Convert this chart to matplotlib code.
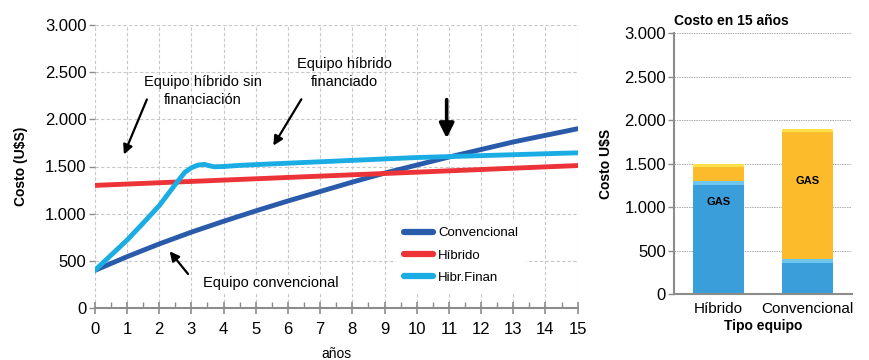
import matplotlib.pyplot as plt
import matplotlib.ticker as mticker

plt.rcParams['font.family'] = ['Liberation Sans', 'DejaVu Sans']

# costo acumulado por año (U$S)
anios = list(range(16))
convencional = [400, 545, 680, 805, 920, 1030, 1135, 1235, 1335, 1430,
                1515, 1600, 1680, 1760, 1830, 1900]
hibrido = [1300, 1314, 1328, 1342, 1356, 1370, 1384, 1398, 1412, 1426,
           1440, 1454, 1468, 1482, 1496, 1510]
anios_fin = [0, 1, 1.5, 2, 2.5, 2.8, 3.0, 3.2, 3.4, 3.7, 4, 4.5, 5, 6, 7, 8,
             9, 10, 11, 12, 13, 14, 15]
hibrido_fin = [400, 720, 900, 1085, 1310, 1440, 1487, 1515, 1522, 1497, 1500,
               1512, 1520, 1535, 1550, 1565, 1580, 1595, 1605, 1615, 1625,
               1635, 1645]

# costo en 15 años por tipo de equipo
tipos = ['Híbrido', 'Convencional']
equipo = [1300, 400]
gas = [200, 1500]
gas_label_y = [1060, 1300]

C_CONV = '#2A5BAA'
C_HIB = '#EB3338'
C_FIN = '#1AADE4'
C_BLUE = '#3A9EDA'
C_YEL = '#FBBB2B'
GRAY = '#8C8C8C'

fmt = mticker.FuncFormatter(lambda v, p: f'{int(v):,}'.replace(',', '.'))

fig = plt.figure(figsize=(8.7, 3.6), dpi=100)

# --- grafico de lineas ---
ax = fig.add_axes([0.109, 0.144, 0.555, 0.787])
ax.plot(anios, convencional, color=C_CONV, lw=3.5, solid_capstyle='round', label='Convencional', zorder=3)
ax.plot(anios, hibrido, color=C_HIB, lw=3.5, solid_capstyle='round', label='Híbrido', zorder=3)
ax.plot(anios_fin, hibrido_fin, color=C_FIN, lw=3.5, solid_capstyle='round',
        solid_joinstyle='round', label='Hibr.Finan', zorder=3)

ax.set_xlim(0, 15)
ax.set_ylim(0, 3000)
ax.set_xticks(range(16))
ax.set_xticks([i + 0.5 for i in range(15)], minor=True)
ax.set_yticks(range(0, 3001, 500))
ax.yaxis.set_major_formatter(fmt)
ax.grid(True, color='#C8C8C8', ls=(0, (3, 2)), lw=0.8)
ax.set_axisbelow(True)
for s in ['top', 'right', 'left']:
    ax.spines[s].set_visible(False)
ax.spines['bottom'].set_color(GRAY)
ax.spines['bottom'].set_linewidth(1.5)
ax.tick_params(axis='x', which='major', direction='inout', length=8, width=1.2, color=GRAY,
               labelsize=12, pad=6)
ax.tick_params(axis='x', which='minor', direction='in', length=4, width=1, color=GRAY)
ax.tick_params(axis='y', length=4, width=1, color=GRAY, labelsize=12, pad=2)
ax.set_xlabel('años', fontsize=10, labelpad=7)
ax.set_ylabel('Costo (U$S)', fontsize=10, fontweight='bold', labelpad=12)

leg = ax.legend(loc='lower left', bbox_to_anchor=(0.61, 0.035), frameon=True, fontsize=9.5,
                handlelength=2.2, labelspacing=0.75, handletextpad=0.4, borderpad=0.6)
leg.get_frame().set_edgecolor('none')
leg.get_frame().set_facecolor('white')
leg.get_frame().set_alpha(1)
for h in leg.get_lines():
    h.set_linewidth(4.5)

arr = dict(arrowstyle='-|>', color='black', lw=1.6, mutation_scale=14)
ax.text(3.35, 2300, 'Equipo híbrido sin\nfinanciación', ha='center', va='center', fontsize=10.5,
        linespacing=1.3)
ax.annotate('', xy=(0.87, 1600), xytext=(1.65, 2237), arrowprops=arr)
ax.text(7.76, 2491, 'Equipo híbrido\nfinanciado', ha='center', va='center', fontsize=10.5,
        linespacing=1.3)
ax.annotate('', xy=(5.5, 1696), xytext=(6.46, 2237), arrowprops=arr)
ax.annotate('', xy=(10.93, 1770), xytext=(10.93, 2237),
            arrowprops=dict(arrowstyle='-|>', color='black', lw=2.6, mutation_scale=22))
ax.text(5.47, 265, 'Equipo convencional', ha='center', va='center', fontsize=10.5,
        bbox=dict(facecolor='white', edgecolor='none', pad=1))
ax.annotate('', xy=(2.27, 625), xytext=(2.95, 339), arrowprops=arr)

# --- grafico de barras ---
bx = fig.add_axes([0.775, 0.183, 0.204, 0.725])
pos = range(len(tipos))
tops = [e + g for e, g in zip(equipo, gas)]
bx.bar(pos, equipo, width=0.57, color=C_BLUE, zorder=2)
bx.bar(pos, gas, width=0.57, bottom=equipo, color=C_YEL, zorder=2)
# brillo en el borde superior de cada tramo
bx.bar(pos, [40] * 2, width=0.57, bottom=[e - 40 for e in equipo], color='#6CC6EE', zorder=3)
bx.bar(pos, [40] * 2, width=0.57, bottom=[t - 40 for t in tops], color='#FDE04A', zorder=3)
for i in pos:
    bx.text(i, gas_label_y[i], 'GAS', ha='center', va='center', fontsize=8,
            fontweight='bold', color='black', zorder=4)

bx.set_xlim(-0.5, 1.5)
bx.set_ylim(0, 3000)
bx.set_yticks(range(0, 3001, 500))
bx.yaxis.set_major_formatter(fmt)
bx.set_xticks(list(pos))
bx.set_xticklabels(tipos)
bx.grid(True, axis='y', color='#AAAAAA', ls=(0, (1.5, 1)), lw=0.7)
bx.set_axisbelow(True)
bx.spines['top'].set_visible(False)
bx.spines['right'].set_visible(False)
for s in ['left', 'bottom']:
    bx.spines[s].set_color(GRAY)
    bx.spines[s].set_linewidth(1.5)
bx.tick_params(axis='x', length=0, labelsize=11, pad=6)
bx.tick_params(axis='y', length=4, width=1, color=GRAY, labelsize=12, pad=2)
bx.set_xlabel('Tipo equipo', fontsize=10, fontweight='bold', labelpad=2)
bx.set_ylabel('Costo U$S', fontsize=10, fontweight='bold', labelpad=8)
bx.set_title('Costo en 15 años', fontsize=10, fontweight='bold', loc='left', pad=6)

fig.savefig('out.png', dpi=100)
